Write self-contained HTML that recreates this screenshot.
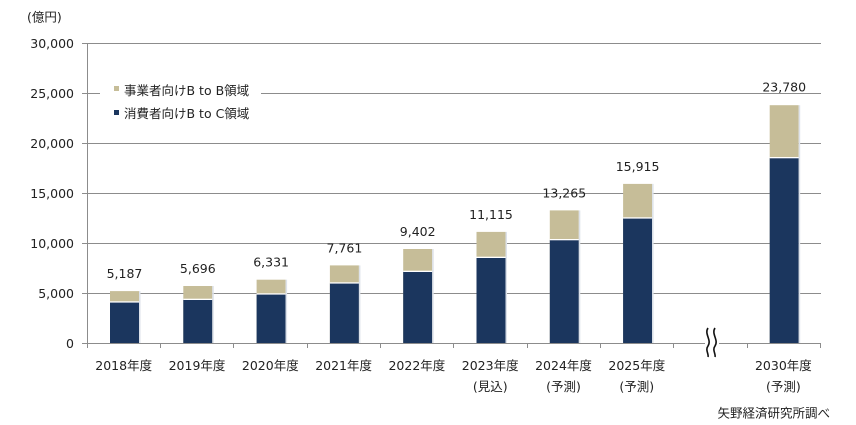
<!DOCTYPE html>
<html><head><meta charset="utf-8">
<style>
html,body{margin:0;padding:0;background:#fff;}
svg{display:block;}
text{font-family:"DejaVu Sans","Noto Sans CJK JP",sans-serif;font-size:12.5px;fill:#222;}
</style></head>
<body>
<svg width="856" height="425" viewBox="0 0 856 425" xmlns="http://www.w3.org/2000/svg">
<rect width="856" height="425" fill="#fff"/>
<!-- gridlines -->
<g stroke="#8c8c8c" stroke-width="1">
<line x1="87" y1="43.5" x2="821" y2="43.5"/>
<line x1="87" y1="93.5" x2="821" y2="93.5"/>
<line x1="87" y1="143.5" x2="821" y2="143.5"/>
<line x1="87" y1="193.5" x2="821" y2="193.5"/>
<line x1="87" y1="243.5" x2="821" y2="243.5"/>
<line x1="87" y1="293.5" x2="821" y2="293.5"/>
<!-- y axis -->
<line x1="87.5" y1="43" x2="87.5" y2="343"/>
<line x1="82" y1="43.5" x2="87" y2="43.5"/>
<line x1="82" y1="93.5" x2="87" y2="93.5"/>
<line x1="82" y1="143.5" x2="87" y2="143.5"/>
<line x1="82" y1="193.5" x2="87" y2="193.5"/>
<line x1="82" y1="243.5" x2="87" y2="243.5"/>
<line x1="82" y1="293.5" x2="87" y2="293.5"/>
<line x1="82" y1="343.5" x2="87" y2="343.5"/>
<!-- x axis -->
<line x1="87" y1="343.5" x2="821" y2="343.5"/>
<line x1="87.5" y1="343" x2="87.5" y2="348"/>
<line x1="160.5" y1="343" x2="160.5" y2="348"/>
<line x1="233.5" y1="343" x2="233.5" y2="348"/>
<line x1="307.5" y1="343" x2="307.5" y2="348"/>
<line x1="380.5" y1="343" x2="380.5" y2="348"/>
<line x1="453.5" y1="343" x2="453.5" y2="348"/>
<line x1="527.5" y1="343" x2="527.5" y2="348"/>
<line x1="600.5" y1="343" x2="600.5" y2="348"/>
<line x1="673.5" y1="343" x2="673.5" y2="348"/>
<line x1="747.5" y1="343" x2="747.5" y2="348"/>
<line x1="820.5" y1="343" x2="820.5" y2="348"/>
</g>

<!-- legend box -->
<rect x="100" y="76" width="161" height="48" fill="#fff"/>
<rect x="114" y="86" width="5" height="5" fill="#c6bd98"/>
<rect x="114" y="110" width="5" height="5" fill="#1b365e"/>
<text x="124" y="95">事業者向けB to B領域</text>
<text x="124" y="118">消費者向けB to C領域</text>

<!-- bars -->
<g id="bars">
<!-- i, total, navy -->
<!-- 2018 -->
<rect x="110" y="291.1" width="29" height="51.9" fill="#c6bd98"/>
<rect x="110" y="302.3" width="29" height="40.7" fill="#1b365e"/>
<rect x="110" y="301.3" width="29" height="1.3" fill="#fff"/>
<rect x="139" y="291.1" width="1.5" height="51.9" fill="#dde2ea"/>
<!-- 2019 -->
<rect x="183.3" y="286" width="29" height="57" fill="#c6bd98"/>
<rect x="183.3" y="299.7" width="29" height="43.3" fill="#1b365e"/>
<rect x="183.3" y="298.7" width="29" height="1.3" fill="#fff"/>
<rect x="212.3" y="286" width="1.5" height="57" fill="#dde2ea"/>
<!-- 2020 -->
<rect x="256.6" y="279.7" width="29" height="63.3" fill="#c6bd98"/>
<rect x="256.6" y="294.3" width="29" height="48.7" fill="#1b365e"/>
<rect x="256.6" y="293.3" width="29" height="1.3" fill="#fff"/>
<rect x="285.6" y="279.7" width="1.5" height="63.3" fill="#dde2ea"/>
<!-- 2021 -->
<rect x="329.9" y="265.4" width="29" height="77.6" fill="#c6bd98"/>
<rect x="329.9" y="283.3" width="29" height="59.7" fill="#1b365e"/>
<rect x="329.9" y="282.3" width="29" height="1.3" fill="#fff"/>
<rect x="358.9" y="265.4" width="1.5" height="77.6" fill="#dde2ea"/>
<!-- 2022 -->
<rect x="403.2" y="249" width="29" height="94" fill="#c6bd98"/>
<rect x="403.2" y="271.7" width="29" height="71.3" fill="#1b365e"/>
<rect x="403.2" y="270.7" width="29" height="1.3" fill="#fff"/>
<rect x="432.2" y="249" width="1.5" height="94" fill="#dde2ea"/>
<!-- 2023 -->
<rect x="476.5" y="231.9" width="29" height="111.1" fill="#c6bd98"/>
<rect x="476.5" y="257.7" width="29" height="85.3" fill="#1b365e"/>
<rect x="476.5" y="256.7" width="29" height="1.3" fill="#fff"/>
<rect x="505.5" y="231.9" width="1.5" height="111.1" fill="#dde2ea"/>
<!-- 2024 -->
<rect x="549.8" y="210.4" width="29" height="132.6" fill="#c6bd98"/>
<rect x="549.8" y="240" width="29" height="103" fill="#1b365e"/>
<rect x="549.8" y="239" width="29" height="1.3" fill="#fff"/>
<rect x="578.8" y="210.4" width="1.5" height="132.6" fill="#dde2ea"/>
<!-- 2025 -->
<rect x="623.1" y="183.9" width="29" height="159.1" fill="#c6bd98"/>
<rect x="623.1" y="218.3" width="29" height="124.7" fill="#1b365e"/>
<rect x="623.1" y="217.3" width="29" height="1.3" fill="#fff"/>
<rect x="652.1" y="183.9" width="1.5" height="159.1" fill="#dde2ea"/>
<!-- 2030 -->
<rect x="769.7" y="105.2" width="29" height="237.8" fill="#c6bd98"/>
<rect x="769.7" y="158" width="29" height="185" fill="#1b365e"/>
<rect x="769.7" y="157" width="29" height="1.3" fill="#fff"/>
<rect x="798.7" y="105.2" width="1.5" height="237.8" fill="#dde2ea"/>
</g>

<!-- value labels -->
<g text-anchor="middle">
<text x="124.5" y="278">5,187</text>
<text x="197.8" y="273">5,696</text>
<text x="271.1" y="266.7">6,331</text>
<text x="344.4" y="252.4">7,761</text>
<text x="417.7" y="236">9,402</text>
<text x="491" y="218.9">11,115</text>
<text x="564.3" y="197.4">13,265</text>
<text x="637.6" y="170.9">15,915</text>
<text x="784.2" y="91.7">23,780</text>
</g>

<!-- y tick labels -->
<g text-anchor="end">
<text x="74" y="48">30,000</text>
<text x="74" y="98">25,000</text>
<text x="74" y="148">20,000</text>
<text x="74" y="198">15,000</text>
<text x="74" y="248">10,000</text>
<text x="74" y="298">5,000</text>
<text x="74" y="348">0</text>
</g>
<text x="27" y="21.5">(億円)</text>

<!-- category labels -->
<g text-anchor="middle">
<text x="123.7" y="370">2018年度</text>
<text x="197" y="370">2019年度</text>
<text x="270.3" y="370">2020年度</text>
<text x="343.6" y="370">2021年度</text>
<text x="416.9" y="370">2022年度</text>
<text x="490.2" y="370">2023年度</text>
<text x="563.5" y="370">2024年度</text>
<text x="636.8" y="370">2025年度</text>
<text x="783.4" y="370">2030年度</text>
<text x="490.2" y="391">(見込)</text>
<text x="563.5" y="391">(予測)</text>
<text x="636.8" y="391">(予測)</text>
<text x="783.4" y="391">(予測)</text>
</g>

<!-- break mark -->
<rect x="705" y="338" width="14" height="11" fill="#fff"/>
<g fill="none" stroke="#111" stroke-width="1.6">
<path d="M708 328 C 704 334, 712 340, 708 346 C 705 350, 709 354, 708 357"/>
<path d="M715 328 C 711 334, 719 340, 715 346 C 712 350, 716 354, 715 357"/>
</g>

<text x="830" y="417.5" text-anchor="end">矢野経済研究所調べ</text>
</svg>
</body></html>
